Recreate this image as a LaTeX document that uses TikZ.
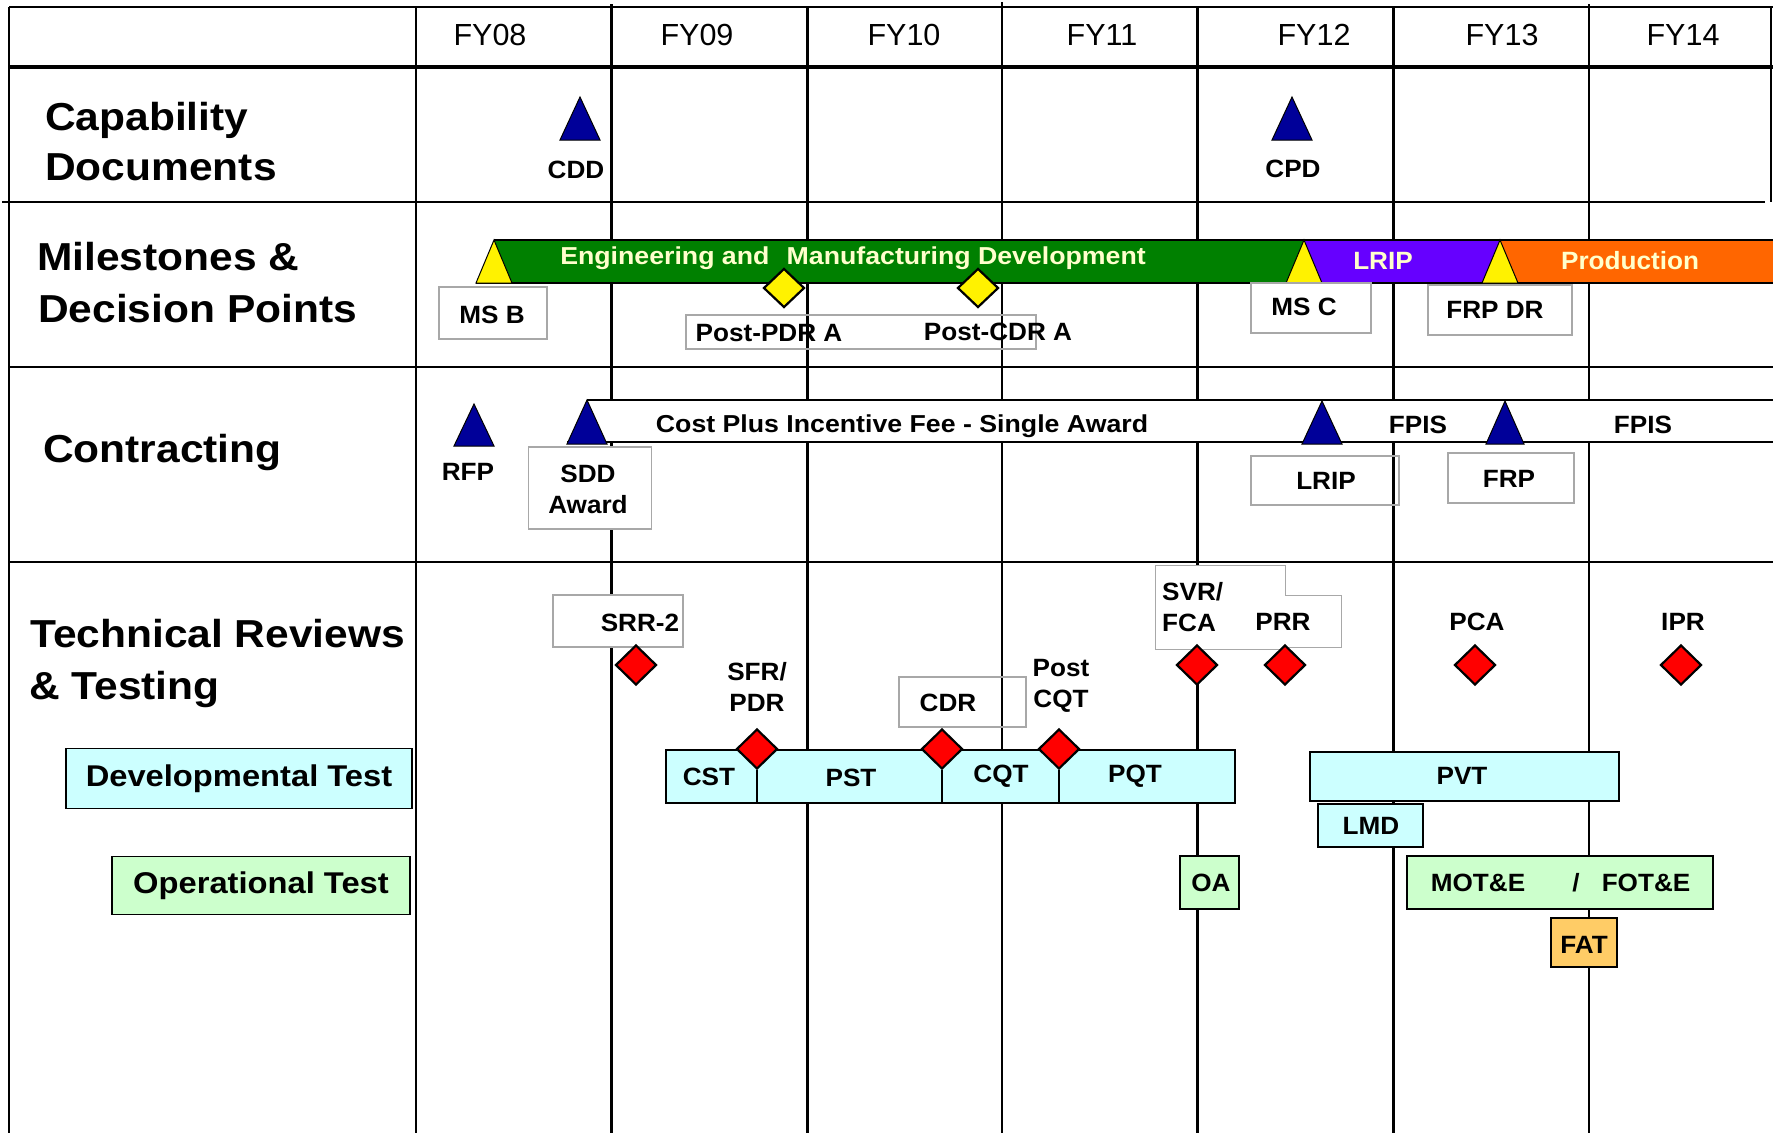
\documentclass[tikz,border=0pt]{standalone}
\usepackage{fontspec}
\setmainfont{Liberation Sans}
\newfontfamily\wideA[FakeStretch=1.09]{Liberation Sans}
\newfontfamily\wideB[FakeStretch=1.045]{Liberation Sans}
\usetikzlibrary{shapes.geometric}
\definecolor{navyT}{HTML}{000099}
\definecolor{emdG}{HTML}{008000}
\definecolor{lripP}{HTML}{6600FF}
\definecolor{prodO}{HTML}{FF6600}
\definecolor{txtY}{HTML}{FFFFCC}
\definecolor{devC}{HTML}{CCFFFF}
\definecolor{opG}{HTML}{CCFFCC}
\definecolor{fatO}{HTML}{FFCC66}
\definecolor{boxgray}{HTML}{A8A8A8}
\newcommand\TriUp[5]{\filldraw[fill=#5,draw=black,line width=1pt] (#1,#2) -- (#1+#4,#3) -- (#1-#4,#3) -- cycle;}
\begin{document}
\begin{tikzpicture}[x=1pt,y=-1pt,
  big/.style={font=\wideA\fontsize{39}{44}\selectfont\bfseries, inner sep=0pt, anchor=base west},
  fy/.style={font=\fontsize{30.5}{34}\selectfont, inner sep=0pt, anchor=base},
  lbl/.style={font=\wideB\fontsize{25}{31}\selectfont\bfseries, inner sep=0pt, align=center},
  widelbl/.style={font=\wideA\fontsize{24.5}{31}\selectfont\bfseries, inner sep=0pt},
  midlbl/.style={font=\wideA\fontsize{30}{34}\selectfont\bfseries, inner sep=0pt},
  thickline/.style={line width=3pt},
  thinline/.style={line width=1.8pt},
  gbox/.style={draw=boxgray, line width=1.1pt, inner sep=0pt},
  wbox/.style={gbox, fill=white},
  tbox/.style={draw=black, line width=1.6pt, inner sep=0pt},
  reddia/.style={diamond, draw=black, line width=2.2pt, fill=red, minimum width=41pt, minimum height=40pt, inner sep=0pt},
  yeldia/.style={diamond, draw=black, line width=2.2pt, fill=yellow, minimum width=41pt, minimum height=39pt, inner sep=0pt}
]
\useasboundingbox (0,0) rectangle (1773,1133);
\fill[white] (0,0) rectangle (1773,1133);

% ---------- grid ----------
\draw[thinline] (9,7) -- (1773,7);
\draw[line width=3.5pt] (9,67) -- (1773,67);
\draw[line width=2pt] (2,202) -- (1765,202);
\draw[line width=2pt] (9,367) -- (1773,367);
\draw[line width=2pt] (9,562) -- (1773,562);
\draw[line width=2pt] (9,7) -- (9,1133);
\draw[line width=2pt] (1771,7) -- (1771,202);
\draw[thinline] (416,7) -- (416,1133);
\draw[thickline] (611,4) -- (611,1133);
\draw[thickline] (807,7) -- (807,1133);
\draw[thinline] (1002,2) -- (1002,1133);
\draw[thickline] (1197,7) -- (1197,1133);
\draw[thickline] (1393,7) -- (1393,1133);
\draw[thinline] (1589,4) -- (1589,1133);

% ---------- header ----------
\node[fy] (fy08) at (490,45) {FY08};
\node[fy] (fy09) at (697,45) {FY09};
\node[fy] (fy10) at (904,45) {FY10};
\node[fy] (fy11) at (1102,45) {FY11};
\node[fy] (fy12) at (1314,45) {FY12};
\node[fy] (fy13) at (1502,45) {FY13};
\node[fy] (fy14) at (1683,45) {FY14};

% ---------- row labels ----------
\node[big] (cap1) at (45,130) {Capability};
\node[big] (cap2) at (45,180) {Documents};
\node[big] (mil1) at (37,270) {Milestones \&};
\node[big] (mil2) at (38,322) {Decision Points};
\node[big] (con) at (43,462) {Contracting};
\node[big] (tec1) at (30,647) {Technical Reviews};
\node[big] (tec2) at (29,699) {\& Testing};
\node[tbox, fill=devC, minimum width=346pt, minimum height=60pt, midlbl] (devtest) at (239,778.5) {Developmental Test};
\node[tbox, fill=opG, minimum width=298pt, minimum height=58pt, midlbl] (optest) at (261,885.5) {Operational Test};

% ---------- capability documents ----------
\TriUp{580}{97}{140}{20}{navyT}
\TriUp{1292}{97}{140}{20}{navyT}
\node[lbl] (cdd) at (576,170) {CDD};
\node[lbl] (cpd) at (1293,169) {CPD};

% ---------- milestones ----------
\fill[emdG] (494,240) rectangle (1304,283);
\fill[lripP] (1304,240) rectangle (1500,283);
\fill[prodO] (1500,240) rectangle (1773,283);
\draw[line width=2pt] (494,240) -- (1773,240);
\draw[line width=2pt] (476,283) -- (1773,283);
\node[widelbl, text=txtY] (emd) at (853,258) {Engineering and\hspace{0.4em} Manufacturing Development};
\node[lbl, text=txtY] (lripbar) at (1383,261) {LRIP};
\node[lbl, text=txtY] (prod) at (1630,261) {Production};
\TriUp{494}{240}{283}{18}{yellow}
\TriUp{1304}{240}{283}{18}{yellow}
\TriUp{1500}{240}{283}{18}{yellow}
\node[gbox, fill=white, minimum width=108pt, minimum height=52pt] (msbbox) at (493,313) {};
\node[lbl] (msb) at (492,315) {MS B};
\node[gbox, minimum width=120pt, minimum height=50pt] (mscbox) at (1311,308) {};
\node[lbl] (msc) at (1304,307) {MS C};
\node[gbox, minimum width=144pt, minimum height=50pt] (frpdrbox) at (1500,310) {};
\node[lbl] (frpdr) at (1495,310) {FRP DR};
\node[gbox, minimum width=350pt, minimum height=34pt] (postbox) at (861,332) {};
\node[lbl] (postpdr) at (769,333) {Post-PDR A};
\node[lbl] (postcdr) at (998,332) {Post-CDR A};
\node[yeldia] (pdrdia) at (784,288) {};
\node[yeldia] (cdrdia) at (978,288) {};

% ---------- contracting ----------
\fill[white] (587,400) rectangle (1773,442);
\draw[line width=2pt] (587,400) -- (1773,400);
\draw[line width=2pt] (567,442) -- (1773,442);
\TriUp{474}{404}{446}{20}{navyT}
\TriUp{587}{400}{444}{20}{navyT}
\TriUp{1322}{401}{444}{20}{navyT}
\TriUp{1505}{401}{444}{19}{navyT}
\node[widelbl] (cpif) at (902,426) {Cost Plus Incentive Fee - Single Award};
\node[lbl] (fpis1) at (1418,425) {FPIS};
\node[lbl] (fpis2) at (1643,425) {FPIS};
\node[lbl] (rfp) at (468,472) {RFP};
\node[wbox, minimum width=123pt, minimum height=82pt] (sddbox) at (590,488) {};
\node[lbl] (sdd) at (588,489) {SDD\\Award};
\node[gbox, minimum width=148pt, minimum height=49pt] (lripbox) at (1325,480.5) {};
\node[lbl] (lrip) at (1326,481) {LRIP};
\node[gbox, minimum width=126pt, minimum height=50pt] (frpbox) at (1511,478) {};
\node[lbl] (frp) at (1509,479) {FRP};

% ---------- technical reviews ----------
\node[wbox, minimum width=130pt, minimum height=52pt] (srrbox) at (618,621) {};
\node[lbl] (srr) at (640,623) {SRR-2};
\node[draw=none, fill=white, minimum width=129pt, minimum height=83pt, inner sep=0pt] (svrbox) at (1220.5,607.5) {};
\node[draw=none, fill=white, minimum width=60pt, minimum height=51pt, inner sep=0pt] (prrbox) at (1311,621.5) {};
\draw[boxgray, line width=1.1pt] (svrbox.north west) -- (svrbox.north east) -- (svrbox.east |- prrbox.north) -- (prrbox.north east) -- (prrbox.south east) -- (svrbox.east |- prrbox.south) -- (svrbox.south east) -- (svrbox.south west) -- cycle;
\node[lbl, align=left, anchor=west] (svr) at (1162,607) {SVR/\\FCA};
\node[lbl] (prr) at (1283,622) {PRR};
\node[lbl] (pca) at (1477,622) {PCA};
\node[lbl] (ipr) at (1683,622) {IPR};
\node[gbox, minimum width=127pt, minimum height=50pt] (cdrbox) at (962.5,702) {};
\node[lbl] (cdrl) at (948,703) {CDR};
\node[lbl] (sfrl) at (757,687) {SFR/\\PDR};
\node[lbl] (pcqtl) at (1061,686) {Post\\CQT};

% development test bar
\node[tbox, fill=devC, minimum width=569pt, minimum height=53pt] (devbar) at (950.5,776.5) {};
\node[reddia] (srrdia) at (636,665) {};
\node[reddia] (sfrdia) at (757,749) {};
\node[reddia] (cdrdia2) at (942,749) {};
\node[reddia] (pcqtdia) at (1059,749) {};
\node[reddia] (svrdia) at (1197,665) {};
\node[reddia] (prrdia) at (1285,665) {};
\node[reddia] (pcadia) at (1475,665) {};
\node[reddia] (iprdia) at (1681,665) {};
\draw[line width=1.2pt] (sfrdia.south) -- (sfrdia.south |- devbar.south);
\draw[line width=1.2pt] (cdrdia2.south) -- (cdrdia2.south |- devbar.south);
\draw[line width=1.2pt] (pcqtdia.south) -- (pcqtdia.south |- devbar.south);
\node[lbl] (cst) at (709,777) {CST};
\node[lbl] (pst) at (851,778) {PST};
\node[lbl] (cqt) at (1001,776) {CQT};
\node[lbl] (pqt) at (1135,776) {PQT};

\node[tbox, fill=devC, minimum width=309pt, minimum height=49pt] (pvtbox) at (1464.5,776.5) {};
\node[lbl] (pvt) at (1462,776) {PVT};
\node[tbox, fill=devC, minimum width=105pt, minimum height=43pt] (lmdbox) at (1370.5,825.5) {};
\node[lbl] (lmd) at (1371,826) {LMD};
\node[tbox, fill=opG, minimum width=59pt, minimum height=53pt] (oabox) at (1209.5,882.5) {};
\node[lbl] (oa) at (1211,883) {OA};
\node[tbox, fill=opG, minimum width=306pt, minimum height=53pt] (motbox) at (1560,882.5) {};
\node[lbl] (mote) at (1478,883) {MOT\&E};
\node[lbl] (slash) at (1576,883) {/};
\node[lbl] (fote) at (1646,883) {FOT\&E};
\node[tbox, fill=fatO, minimum width=66pt, minimum height=49pt] (fatbox) at (1584,942.5) {};
\node[lbl] (fat) at (1584,945) {FAT};
\end{tikzpicture}
\end{document}
